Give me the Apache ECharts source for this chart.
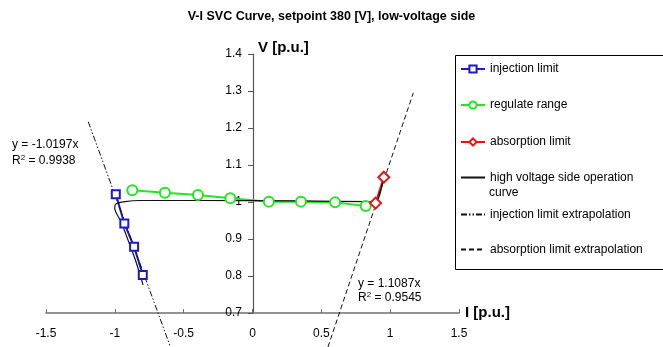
<!DOCTYPE html>
<html>
<head>
<meta charset="utf-8">
<script src="https://cdn.jsdelivr.net/npm/echarts@6/dist/echarts.min.js"></script>
<style>
  html, body { margin: 0; padding: 0; background: #fff; }
  #chart { width: 663px; height: 347px; }
</style>
</head>
<body>
<div id="chart"></div>
<script>
// injection limit (blue squares)
const injI = [-0.993, -0.931, -0.860, -0.797];
const injV = [1.021, 0.942, 0.879, 0.803];
// regulate range (green circles)
const regI = [-0.873, -0.636, -0.396, -0.161, 0.119, 0.352, 0.600, 0.822];
const regV = [1.032, 1.025, 1.019, 1.010, 1.001, 1.001, 0.999, 0.989];
// absorption limit (red diamonds)
const absI = [0.894, 0.954];
const absV = [0.997, 1.067];
// high voltage side operation curve
const hvI = [-0.795, -0.846, -0.904, -0.954, -1.001, -0.991, -0.926, -0.817, -0.383, 0.340, 0.860, 0.897, 0.954];
const hvV = [0.776, 0.838, 0.897, 0.946, 0.984, 0.995, 1.001, 1.004, 1.004, 1.003, 1.001, 1.001, 1.068];
// trendline extrapolations
const injExtI = [-1.193, -0.600];
const injExtV = [1.217, 0.612];
const absExtI = [0.548, 1.168];
const absExtV = [0.608, 1.295];

const names = [
  'injection limit',
  'regulate range',
  'absorption limit',
  'high voltage side operation curve',
  'injection limit extrapolation',
  'absorption limit extrapolation'
];
// vertical centre of each legend row
const legendMid = [67, 103, 140, 176, 213, 248];
const hasMarker = [true, true, true, false, false, false];

const zip = (xs, ys) => xs.map((x, i) => [x, ys[i]]);
const FONT = 'Liberation Sans, Arial, sans-serif';

const chart = echarts.init(document.getElementById('chart'));

const option = {
  backgroundColor: '#fff',
  animation: false,
  textStyle: { fontFamily: FONT },
  title: {
    text: 'V-I SVC Curve, setpoint 380 [V], low-voltage side',
    left: 'center',
    top: 5,
    textStyle: { fontSize: 12.5, fontWeight: 'bold', color: '#000', fontFamily: FONT }
  },
  grid: { left: 46, right: 204, top: 54, bottom: 34 },
  legend: names.map((n, i) => ({
    data: [n],
    orient: 'vertical',
    left: 460,
    top: legendMid[i] - (hasMarker[i] ? 6.5 : 7),
    padding: 0,
    itemWidth: 24,
    itemHeight: hasMarker[i] ? 9 : 14,
    formatter: n === names[3] ? 'high voltage side operation' : '{name}',
    itemStyle: hasMarker[i] ? {} : { opacity: 0 },
    textStyle: { fontSize: 12, color: '#000', fontFamily: FONT, lineHeight: 17 }
  })),
  xAxis: {
    type: 'value',
    min: -1.5, max: 1.5, interval: 0.5,
    name: 'I [p.u.]',
    nameLocation: 'end',
    nameGap: 6,
    nameTextStyle: { fontSize: 15, fontWeight: 'bold', color: '#000', fontFamily: FONT },
    axisLine: { lineStyle: { color: '#707070', width: 1.5 } },
    axisTick: { inside: true, length: 4, lineStyle: { color: '#707070' } },
    axisLabel: { fontSize: 12, color: '#000', margin: 15 },
    splitLine: { show: false }
  },
  yAxis: {
    type: 'value',
    min: 0.7, max: 1.4, interval: 0.1,
    offset: -207,
    name: 'V [p.u.]',
    nameLocation: 'end',
    nameGap: 6,
    nameTextStyle: { fontSize: 15, fontWeight: 'bold', color: '#000', fontFamily: FONT, align: 'left', verticalAlign: 'middle', padding: [0, 0, 0, 5] },
    axisLine: { onZero: false, lineStyle: { color: '#555', width: 1.2 } },
    axisTick: { length: 5, lineStyle: { color: '#555' } },
    axisLabel: { fontSize: 12, color: '#000', margin: 11 },
    splitLine: { show: false }
  },
  graphic: [
    {
      type: 'rect', silent: true,
      shape: { x: 455.5, y: 55.5, width: 220, height: 214 },
      style: { fill: 'none', stroke: '#000', lineWidth: 1 }
    },
    {
      type: 'text', left: 489, top: 187, silent: true,
      style: { text: 'curve', font: '12px ' + FONT, fill: '#000' }
    },
    {
      type: 'text', left: 12, top: 137, silent: true,
      style: {
        text: 'y = -1.0197x\nR{sup|2} = 0.9938',
        font: '12px ' + FONT, fill: '#000', lineHeight: 16,
        rich: { sup: { fontSize: 8, padding: [0, 0, 7, 0], fill: '#000' } }
      }
    },
    {
      type: 'text', left: 358, top: 277, silent: true,
      style: {
        text: 'y = 1.1087x\nR{sup|2} = 0.9545',
        font: '12px ' + FONT, fill: '#000', lineHeight: 14,
        rich: { sup: { fontSize: 8, padding: [0, 0, 7, 0], fill: '#000' } }
      }
    }
  ],
  series: [
    {
      name: names[0], type: 'line', data: zip(injI, injV),
      symbol: 'emptyRect', symbolSize: 8,
      lineStyle: { color: '#1a1acc', width: 2 },
      itemStyle: { color: '#1a1acc', borderWidth: 1.5 }
    },
    {
      name: names[1], type: 'line', data: zip(regI, regV),
      symbol: 'emptyCircle', symbolSize: 10,
      lineStyle: { color: '#22e622', width: 2 },
      itemStyle: { color: '#22e622', borderWidth: 2 }
    },
    {
      name: names[2], type: 'line', data: zip(absI, absV),
      symbol: 'emptyDiamond', symbolSize: 11,
      lineStyle: { color: '#ee1111', width: 2 },
      itemStyle: { color: '#ee1111', borderWidth: 2 }
    },
    {
      name: names[3], type: 'line', data: zip(hvI, hvV),
      symbol: 'none', smooth: 0.3,
      lineStyle: { color: '#111', width: 1.2 },
      itemStyle: { color: '#111' }
    },
    {
      name: names[4], type: 'line', data: zip(injExtI, injExtV),
      symbol: 'none', clip: false,
      lineStyle: { color: '#111', width: 1, type: [6, 2, 1.5, 2, 1.5, 2] },
      itemStyle: { color: '#111' }
    },
    {
      name: names[5], type: 'line', data: zip(absExtI, absExtV),
      symbol: 'none', clip: false,
      lineStyle: { color: '#111', width: 1, type: [5, 3] },
      itemStyle: { color: '#111' }
    }
  ]
};

chart.setOption(option);
</script>
</body>
</html>
